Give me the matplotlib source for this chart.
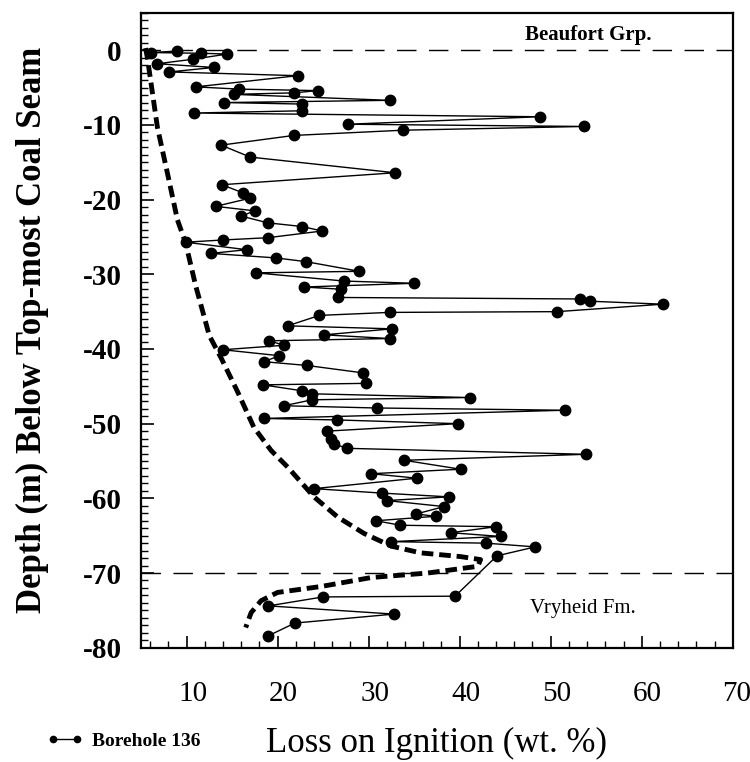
import matplotlib
matplotlib.use("Agg")
import matplotlib.pyplot as plt
from matplotlib.ticker import MultipleLocator
from matplotlib.transforms import ScaledTranslation

plt.rcParams['font.family'] = ['Liberation Serif', 'DejaVu Serif']
plt.rcParams['axes.unicode_minus'] = False

# Borehole 136: loss on ignition (wt. %) against depth (m)
depth = [-0.1, -0.3, -0.4, -0.5, -1.2, -1.8, -2.3, -2.9, -3.4, -4.9,
         -5.2, -5.4, -5.7, -5.9, -6.7, -7.0, -7.2, -8.1, -8.4, -8.9,
         -9.9, -10.2, -10.7, -11.4, -12.7, -14.3, -16.4, -18.0, -19.1, -19.8,
         -20.9, -21.5, -22.2, -23.1, -23.6, -24.2, -25.1, -25.4, -25.7, -26.7,
         -27.2, -27.8, -28.3, -29.6, -29.8, -30.9, -31.2, -31.7, -32.0, -33.1,
         -33.3, -33.6, -34.0, -35.0, -35.1, -35.5, -36.9, -37.3, -38.1, -38.6,
         -38.9, -39.5, -40.1, -40.9, -41.7, -42.2, -43.2, -44.6, -44.8, -45.6,
         -46.0, -46.5, -46.8, -47.6, -47.9, -48.2, -49.3, -49.5, -50.0, -51.0,
         -52.1, -52.7, -53.3, -54.1, -54.9, -56.1, -56.7, -57.3, -58.7, -59.3,
         -59.8, -60.3, -61.1, -62.1, -62.4, -63.0, -63.6, -63.8, -64.6, -65.1,
         -65.8, -66.0, -66.5, -67.7, -73.1, -73.2, -74.4, -75.5, -76.7, -78.4]
loi = [9.0, 6.1, 11.6, 14.5, 10.7, 6.8, 13.0, 8.1, 22.2, 11.0,
       15.8, 24.4, 21.8, 15.2, 32.3, 14.1, 22.7, 22.7, 10.8, 48.8,
       27.7, 53.7, 33.8, 21.8, 13.8, 17.0, 32.9, 13.9, 16.2, 17.0,
       13.2, 17.5, 16.0, 18.9, 22.7, 24.9, 18.9, 14.0, 9.9, 16.6,
       12.7, 19.8, 23.1, 29.0, 17.6, 27.3, 35.0, 22.9, 27.0, 26.6,
       53.2, 54.3, 62.3, 50.7, 32.3, 24.6, 21.1, 32.6, 25.1, 32.3,
       19.1, 20.7, 14.0, 20.2, 18.5, 23.2, 29.4, 29.7, 18.4, 22.7,
       23.8, 41.1, 23.8, 20.7, 30.9, 51.6, 18.5, 26.5, 39.8, 25.4,
       25.9, 26.2, 27.6, 53.9, 33.9, 40.1, 30.3, 35.3, 24.0, 31.5,
       38.8, 32.0, 38.3, 35.2, 37.4, 30.8, 33.5, 44.0, 39.0, 44.5,
       32.5, 42.9, 48.3, 44.1, 39.5, 25.0, 19.0, 32.8, 21.9, 19.0]

# thick dashed trend curve
trend_x = [5.5, 5.7, 6.8, 8.0, 9.0, 9.9, 11.0, 12.5, 13.8, 15.6,
           17.4, 19.3, 21.1, 24.0, 26.6, 29.5, 32.5, 35.7, 40.1, 42.3,
           42.0, 36.5, 30.3, 24.8, 20.0, 18.2, 17.1, 16.5]
trend_y = [0.3, -1.0, -10.3, -17.0, -22.7, -25.8, -31.5, -38.2, -41.2, -45.7,
           -50.5, -53.6, -55.8, -59.8, -62.5, -64.7, -66.4, -67.3, -67.8, -68.2,
           -69.1, -70.0, -70.6, -71.8, -72.6, -73.7, -75.3, -77.3]

boundaries = [0, -70]

fig = plt.figure(figsize=(7.5, 7.62), dpi=100)
ax = fig.add_axes([0.188, 0.15, 0.789, 0.833])

for b in boundaries:
    ax.axhline(b, color='black', lw=1.0, dashes=(14, 9))

ax.plot(trend_x, trend_y, color='black', lw=3.5, dashes=(2.4, 1.2))
ax.plot(loi, depth, '-o', color='black', lw=1.0, ms=7.5, label='Borehole 136')

ax.text(54.1, 2.1, 'Beaufort Grp.', ha='center', va='center', fontsize=15, fontweight='bold')
ax.text(53.5, -74.8, 'Vryheid Fm.', ha='center', va='center', fontsize=15)

ax.set_xlim(5, 70)
ax.set_ylim(-80, 5)
ax.set_xticks([10, 20, 30, 40, 50, 60, 70])
ax.set_yticks([0, -10, -20, -30, -40, -50, -60, -70, -80])
ax.xaxis.set_minor_locator(MultipleLocator(2))
ax.yaxis.set_minor_locator(MultipleLocator(1))
ax.tick_params(which='both', direction='in')
ax.tick_params(which='major', length=9, width=1.2)
ax.tick_params(which='minor', length=5, width=1.0)
ax.tick_params(axis='x', labelsize=21, pad=24)
ax.tick_params(axis='y', labelsize=21, pad=14)
for lab in ax.get_yticklabels():
    lab.set_fontweight('bold')
for lab in ax.get_xticklabels():
    lab.set_transform(lab.get_transform() + ScaledTranslation(0.06, 0, fig.dpi_scale_trans))
ax.get_xticklabels()[-1].set_horizontalalignment('right')
ax.get_xticklabels()[-1].set_transform(
    ax.get_xticklabels()[-1].get_transform() + ScaledTranslation(0.12, 0, fig.dpi_scale_trans))
for s in ax.spines.values():
    s.set_linewidth(1.6)

ax.set_ylabel('Depth (m) Below Top-most Coal Seam', fontsize=25, fontweight='bold', labelpad=24)
ax.set_xlabel('Loss on Ignition (wt. %)', fontsize=25, labelpad=14)

leg = ax.legend(loc='center left', bbox_to_anchor=(0.04, 0.027), bbox_transform=fig.transFigure,
                frameon=False, handlelength=1.8, numpoints=2, markerscale=0.6,
                prop={'size': 14, 'weight': 'bold'}, handletextpad=0.5)

fig.savefig('out.png', dpi=100)
